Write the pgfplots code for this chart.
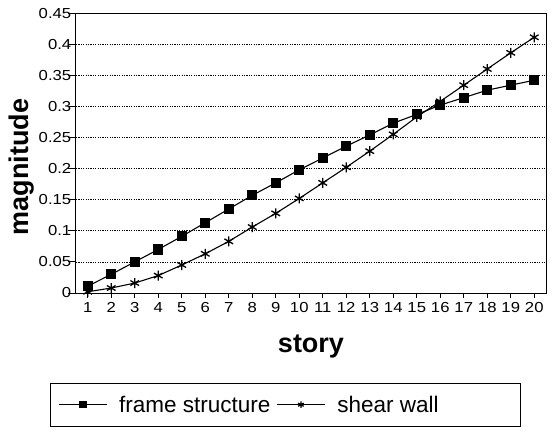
\documentclass[border=0pt]{standalone}
\usepackage{fontspec}
\setmainfont{Liberation Sans}
\newfontfamily\tickfont{Liberation Sans}[FakeStretch=1.15]
\usepackage{pgfplots}
\pgfplotsset{compat=1.18}

\begin{document}
\begin{tikzpicture}
\useasboundingbox (-76pt,-139pt) rectangle (480pt,293pt);
\begin{axis}[
  at={(0pt,0pt)}, anchor=south west,
  width=470pt, height=280pt, scale only axis,
  xmin=0.5, xmax=20.5, ymin=0, ymax=0.45,
  xtick={1,2,3,4,5,6,7,8,9,10,11,12,13,14,15,16,17,18,19,20},
  ytick={0,0.05,0.1,0.15,0.2,0.25,0.3,0.35,0.4,0.45},
  tick align=outside, xtick pos=bottom, ytick pos=left,
  ytick style={/pgfplots/major tick length=8pt},
  xtick style={/pgfplots/major tick length=4.5pt},
  tick style={black, line width=0.8pt},
  axis line style={black, line width=1pt},
  ymajorgrids,
  grid style={black, line width=0.7pt, dash pattern=on 1.2pt off 1.2pt},
  scaled y ticks=false,
  yticklabel style={/pgf/number format/fixed, /pgf/number format/precision=2, xshift=3pt},
  xticklabel style={yshift=-2pt},
  /pgf/number format/assume math mode=true,
  tick label style={font=\tickfont\fontsize{14.5}{15}\selectfont},
  xlabel={story}, ylabel={magnitude},
  label style={font=\bfseries\fontsize{27}{27}\selectfont},
  xlabel style={at={(axis description cs:0.5,-0.214)}, anchor=base},
  ylabel style={at={(axis description cs:-0.102,0.45)}, anchor=base},
  legend style={at={(axis description cs:-0.0553,-0.321)}, anchor=north west,
    draw=black, line width=0.8pt, font=\fontsize{22.5}{23}\selectfont,
    inner xsep=8pt, inner ysep=10.5pt,
    /tikz/every even column/.append style={column sep=4pt},
    /tikz/every odd column/.append style={column sep=10pt}},
  legend columns=2,
  legend image code/.code={\draw[mark repeat=2,mark phase=2,#1] plot coordinates {(0pt,0pt)(24pt,0pt)(48pt,0pt)};},
  legend image post style={mark size=3.2pt, line width=0.8pt},
]
\addplot[black, line width=1.1pt, mark=square*, mark size=4.5pt, mark options={solid}] table {
x y
1 0.011
2 0.030
3 0.050
4 0.070
5 0.091
6 0.113
7 0.135
8 0.157
9 0.177
10 0.198
11 0.217
12 0.236
13 0.254
14 0.273
15 0.287
16 0.302
17 0.314
18 0.326
19 0.334
20 0.342
};
\addlegendentry{frame structure}
\addplot[black, line width=1.1pt, mark=asterisk, mark size=5pt, mark options={solid, line width=1.3pt}] table {
x y
1 0.002
2 0.008
3 0.016
4 0.028
5 0.045
6 0.063
7 0.083
8 0.106
9 0.128
10 0.152
11 0.177
12 0.202
13 0.228
14 0.255
15 0.283
16 0.308
17 0.334
18 0.360
19 0.386
20 0.411
};
\addlegendentry{shear wall\hspace*{72pt}}
\end{axis}
\end{tikzpicture}
\end{document}
